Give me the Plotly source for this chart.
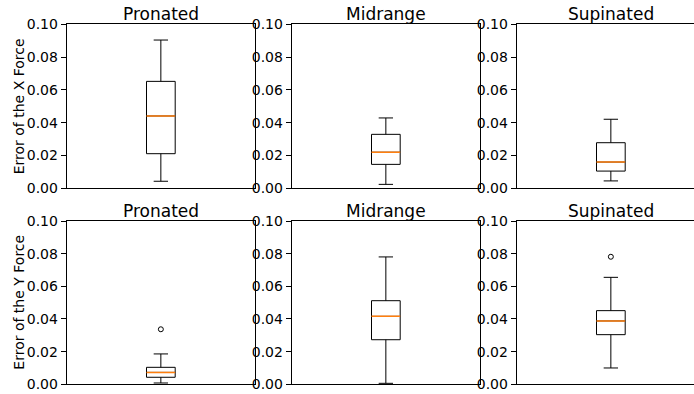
import plotly.graph_objects as go

# Hand positions (one column per subplot)
positions = ["Pronated", "Midrange", "Supinated"]

# Error of the X force: box statistics per position
fx_low = [0.0043, 0.0024, 0.0045]
fx_q1 = [0.0211, 0.0146, 0.0105]
fx_median = [0.0441, 0.0220, 0.0160]
fx_q3 = [0.0652, 0.0329, 0.0278]
fx_high = [0.0904, 0.0429, 0.0421]
fx_outliers = [[], [], []]

# Error of the Y force: box statistics per position
fy_low = [0.0008, 0.0006, 0.0100]
fy_q1 = [0.0043, 0.0273, 0.0304]
fy_median = [0.0073, 0.0416, 0.0388]
fy_q3 = [0.0104, 0.0512, 0.0451]
fy_high = [0.0186, 0.0780, 0.0655]
fy_outliers = [[0.0337], [], [0.0781]]

row_labels = ["Error of the X Force", "Error of the Y Force"]
y_ticks = [0.00, 0.02, 0.04, 0.06, 0.08, 0.10]

W, H = 694, 394
FONT = "DejaVu Sans"
BOX_W = 0.1524
MEDIAN_COLOR = "#ff7f0e"

# Panel geometry in pixels
col_left = [66.7, 291.7, 516.7]
panel_w = 188.3
row_top = [24.3, 221.0]
row_bottom = [188.3, 384.3]

fig = go.Figure()
rows = [
    (fx_low, fx_q1, fx_median, fx_q3, fx_high, fx_outliers),
    (fy_low, fy_q1, fy_median, fy_q3, fy_high, fy_outliers),
]

annotations = []
for r, (lo, q1, med, q3, hi, outl) in enumerate(rows):
    for c in range(3):
        idx = r * 3 + c + 1
        xa = "x" if idx == 1 else f"x{idx}"
        ya = "y" if idx == 1 else f"y{idx}"
        fig.add_trace(go.Box(
            x=[0], q1=[q1[c]], median=[med[c]], q3=[q3[c]],
            lowerfence=[lo[c]], upperfence=[hi[c]],
            width=BOX_W, whiskerwidth=0.5, boxpoints=False,
            fillcolor="white", line=dict(color="black", width=1),
            xaxis=xa, yaxis=ya, showlegend=False, hoverinfo="skip",
        ))
        # median drawn on top in orange, wide enough to cover the box's own median
        fig.add_trace(go.Scatter(
            x=[-BOX_W / 2, BOX_W / 2], y=[med[c], med[c]], mode="lines",
            line=dict(color=MEDIAN_COLOR, width=1.5),
            xaxis=xa, yaxis=ya, showlegend=False, hoverinfo="skip",
        ))
        if outl[c]:
            fig.add_trace(go.Scatter(
                x=[0] * len(outl[c]), y=outl[c], mode="markers",
                marker=dict(symbol="circle-open", size=5, color="black",
                            line=dict(width=1, color="black")),
                xaxis=xa, yaxis=ya, showlegend=False, hoverinfo="skip",
            ))

        x0 = col_left[c]
        x1 = min(x0 + panel_w, W)
        span = (x1 - x0) / panel_w
        dom_x = [x0 / W, x1 / W]
        dom_y = [1 - row_bottom[r] / H, 1 - row_top[r] / H]
        clipped = x0 + panel_w > W

        xkey = "xaxis" if idx == 1 else f"xaxis{idx}"
        ykey = "yaxis" if idx == 1 else f"yaxis{idx}"
        fig.layout[xkey] = dict(
            domain=dom_x, anchor=ya, range=[-0.5, -0.5 + span],
            showticklabels=False, ticks="", showgrid=False, zeroline=False,
            showline=True, mirror=True, linecolor="black", linewidth=1,
            fixedrange=True, automargin=False,
        )
        fig.layout[ykey] = dict(
            domain=dom_y, anchor=xa, range=[0, 0.1],
            tickvals=y_ticks, tickformat=".2f",
            ticks="outside", ticklen=5, tickwidth=1, tickcolor="black",
            tickfont=dict(family=FONT, size=14, color="black"),
            showgrid=False, zeroline=False,
            showline=True, mirror=(not clipped), linecolor="black", linewidth=1,
            fixedrange=True, automargin=False,
        )

        annotations.append(dict(
            text=positions[c], xref="paper", yref="paper",
            x=(x0 + panel_w / 2) / W, y=1 - (row_top[r] - 10) / H,
            xanchor="center", yanchor="middle", showarrow=False,
            font=dict(family=FONT, size=17, color="black"),
        ))

    # row label along the left edge
    annotations.append(dict(
        text=row_labels[r], xref="paper", yref="paper",
        x=19 / W, y=1 - (row_top[r] + row_bottom[r]) / 2 / H,
        xanchor="center", yanchor="middle", textangle=-90, showarrow=False,
        font=dict(family=FONT, size=14, color="black"),
    ))

fig.update_layout(
    width=W, height=H, autosize=False,
    margin=dict(l=0, r=0, t=0, b=0),
    paper_bgcolor="white", plot_bgcolor="white",
    annotations=annotations,
    font=dict(family=FONT),
)

fig.write_html("out.html")
